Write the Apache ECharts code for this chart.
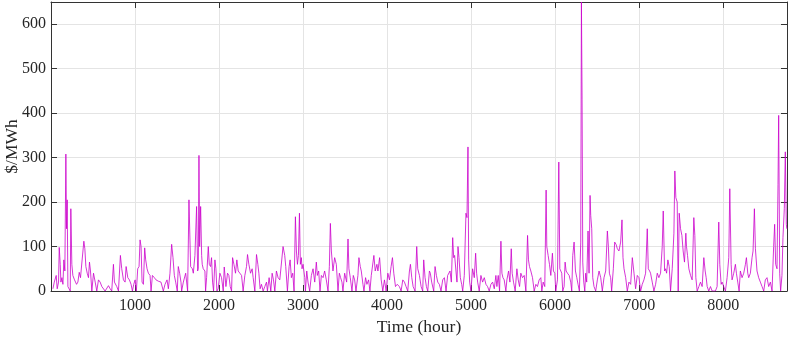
<!DOCTYPE html>
<html><head><meta charset="utf-8">
<script src="https://cdn.jsdelivr.net/npm/echarts@6/dist/echarts.min.js"></script>
<style>html,body{margin:0;padding:0;background:#fff}#c{width:789px;height:337px}</style>
</head><body><div id="c"></div>
<script>
const hours = [23,39,62,74,90,98,110,118,130,142,153,165,177,185,193,201,217,229,236,248,260,280,304,320,336,351,391,403,415,431,446,458,470,486,506,526,545,565,585,605,644,684,704,723,743,755,783,803,826,842,862,882,894,914,933,953,969,985,1001,1016,1032,1048,1060,1072,1084,1100,1115,1127,1143,1159,1179,1191,1207,1230,1250,1278,1309,1337,1357,1381,1397,1416,1436,1452,1468,1484,1503,1515,1531,1547,
1555,1575,1603,1626,1642,1662,1682,1694,1713,1733,1745,1753,1761,1769,1781,1793,1800,1812,1832,1840,1852,1872,1884,1899,1911,1923,1935,1951,1963,1975,1990,2010,2030,2050,2062,2082,2101,2117,2133,2149,2161,2177,2196,2212,2228,2248,2268,2287,2307,2327,2339,2355,2375,2394,2406,2426,2446,2462,2474,2489,2505,2525,2545,2565,2576,2596,2616,2632,2648,2664,2683,2703,2723,2743,2762,2782,2794,2814,2834,2846,2861,2877,2893,2909,2921,2933,2945,2957,2968,2980,2988,3000,3020,3028,3044,3059,3079,3099,3119,3139,3158,3170,3186,3202,3218,3238,3257,3277,3297,3313,3325,3337,3356,3376,3396,3416,3432,3447,3463,3475,3495,3519,3535,3546,3562,3582,3598,3614,3630,3653,3665,3681,3693,3713,3725,3744,3760,3780,3796,3812,3827,3843,3859,3879,3891,3911,3930,
3949,3969,3989,4009,4029,4048,4064,4080,4100,4120,4147,4167,4187,4207,4226,4246,4266,4278,4294,4310,4333,4353,4365,4385,4405,4424,4436,4452,4468,4484,4504,4515,4531,4555,4571,4587,4603,4622,4642,4662,4682,4702,4721,4733,4749,4765,4781,4793,4804,4820,4832,4844,4856,4872,4888,4900,4919,4939,4951,4963,4971,4983,4998,5018,5038,5054,5066,5078,5097,5117,5137,5157,5177,5196,5216,5236,5256,5276,5295,5307,5323,5339,5355,5367,5379,5394,5414,5426,5446,5462,5478,5489,5505,5525,5545,5561,5577,5592,5612,5632,5652,5672,5683,5695,5711,5731,5751,5771,5790,5810,5830,5842,5858,5877,5893,5901,5917,5933,5949,5968,5980,5996,6008,6028,6044,
6056,6068,6079,6091,6107,6119,6131,6147,6167,6186,6198,6210,6226,6242,6258,6273,6289,6305,6313,6321,6329,6341,6353,6364,6376,6392,6404,6416,6424,6436,6448,6463,6483,6503,6523,6543,6562,6582,6602,6622,6634,6646,6661,6673,6693,6709,6725,6741,6760,6780,6796,6808,6820,6840,6859,6879,6899,6919,6939,6958,6978,6998,7018,7037,7057,7077,7097,7109,7125,7136,7156,7176,7196,7216,7235,7255,7275,7287,7303,7315,7327,7342,7358,7374,7394,7414,7425,7437,7453,7465,7477,7493,7509,7524,7540,7556,7564,7576,7592,7612,7631,7651,7663,7675,7691,7711,7730,7750,7770,7786,7798,7810,7829,7849,7869,7908,7928,7948,7960,7976,7988,8007,8027,8047,8067,8079,8095,8106,8126,8146,8158,8174,8190,8205,8225,8245,8265,8277,8293,8304,8324,8344,8356,8372,8384,8403,8423,8443,8463,8483,8502,8522,8542,8562,8582,8601,8613,8625,8641,8653,8661,8673,8684,8700,8712,8728,8740,8752,8758];
const price = [5,20,35,5,20,98,60,20,30,15,70,45,308,140,205,10,8,0,185,60,35,25,15,20,42,30,112,95,55,40,30,65,45,0,40,20,0,25,20,10,0,12,5,0,60,20,10,0,80,50,25,20,55,30,25,15,0,15,25,0,50,55,115,100,20,15,97,70,50,40,35,0,35,30,25,22,20,0,15,25,5,40,105,75,35,20,0,55,40,20,
0,20,40,0,205,55,50,40,80,190,45,50,305,100,190,80,60,50,45,0,30,100,60,55,75,20,0,70,50,0,5,40,30,0,54,10,40,35,10,0,75,60,40,70,45,40,35,0,35,55,82,60,40,50,30,0,82,60,40,5,15,0,10,20,0,30,0,40,25,0,45,30,25,25,100,80,55,0,55,70,30,40,0,167,90,60,80,175,60,75,50,60,30,0,45,20,0,35,50,20,65,35,45,0,35,30,45,25,0,55,152,90,45,75,60,0,40,30,20,0,40,20,117,50,30,0,35,25,0,35,75,55,45,15,0,30,15,25,0,35,35,80,45,60,45,75,25,
0,25,0,40,25,55,75,40,10,15,10,0,25,20,10,0,45,60,30,10,0,100,50,35,10,0,70,30,10,0,45,40,20,0,55,35,20,15,0,25,30,0,35,35,45,20,120,75,80,45,20,100,75,30,15,0,35,175,165,324,70,20,0,50,30,85,40,20,0,35,20,30,15,10,0,15,20,5,35,10,35,0,112,40,30,25,0,25,45,20,95,40,20,0,50,25,10,40,30,35,0,125,70,55,45,30,0,15,10,25,30,0,20,10,227,100,80,60,35,85,45,40,0,25,290,
50,45,40,0,10,65,45,40,35,20,0,80,110,45,30,15,0,110,650,430,65,20,0,40,20,135,40,215,170,140,30,10,0,25,45,30,0,30,45,135,100,40,30,0,50,110,105,95,90,110,160,75,50,30,0,20,15,75,40,5,35,30,0,15,25,40,140,50,45,40,20,0,15,40,30,40,100,180,45,50,40,70,55,0,50,130,270,210,200,0,175,140,125,90,65,130,100,80,50,35,25,165,125,30,0,10,20,10,75,45,30,10,0,10,0,0,10,155,60,15,20,10,0,30,75,230,60,25,40,60,40,20,0,45,30,40,60,75,40,30,40,75,90,185,95,45,30,20,10,0,25,30,10,20,0,100,150,60,50,240,395,40,0,35,120,185,313,150,140];
const xTicks = {min: 0, max: 8760, interval: 1000};
const yTicks = {min: 0, max: 650, interval: 100};

const chart = echarts.init(document.getElementById('c'), null, {renderer: 'canvas'});
const font = 'Liberation Serif';
const axColor = '#333333';
const gridCol = '#e4e4e4';
const data = hours.map((h, i) => [h, price[i]]);
const fmt = v => String(v);
const baseX = {
  type: 'value', min: xTicks.min, max: xTicks.max, interval: xTicks.interval,
  axisLine: {show: true, onZero: false, lineStyle: {color: axColor, width: 1}},
  axisTick: {show: true, inside: true, length: 6, lineStyle: {color: axColor}},
  splitLine: {show: true, lineStyle: {color: gridCol, width: 1}}
};
const baseY = {
  type: 'value', min: yTicks.min, max: yTicks.max, interval: yTicks.interval,
  axisLine: {show: true, onZero: false, lineStyle: {color: axColor, width: 1}},
  axisTick: {show: true, inside: true, length: 6, lineStyle: {color: axColor}},
  splitLine: {show: true, lineStyle: {color: gridCol, width: 1}}
};
chart.setOption({
  animation: false,
  backgroundColor: '#ffffff',
  grid: {left: 51, right: 2, top: 2, bottom: 46, containLabel: false, outerBoundsMode: 'none'},
  xAxis: [
    Object.assign({}, baseX, {
      position: 'bottom',
      name: 'Time (hour)', nameLocation: 'middle', nameGap: 27, nameMoveOverlap: false,
      nameTextStyle: {fontFamily: font, fontSize: 17.5, color: '#262626'},
      axisLabel: {show: true, fontFamily: font, fontSize: 16, color: '#262626', margin: 7,
        showMinLabel: false, showMaxLabel: false, formatter: fmt}
    }),
    Object.assign({}, baseX, {position: 'top', axisLabel: {show: false}, splitLine: {show: false}})
  ],
  yAxis: [
    Object.assign({}, baseY, {
      position: 'left',
      name: '$/MWh', nameLocation: 'middle', nameGap: 30, nameRotate: 90, nameMoveOverlap: false,
      nameTextStyle: {fontFamily: font, fontSize: 17.5, color: '#262626'},
      axisLabel: {show: true, fontFamily: font, fontSize: 16, color: '#262626', margin: 5,
        showMaxLabel: false, formatter: fmt}
    }),
    Object.assign({}, baseY, {position: 'right', axisLabel: {show: false}, splitLine: {show: false}})
  ],
  series: [{
    type: 'line', xAxisIndex: 0, yAxisIndex: 0, data: data,
    showSymbol: false, symbol: 'none', smooth: false,
    lineStyle: {color: '#cc00cc', width: 0.8}
  }]
});
</script></body></html>
